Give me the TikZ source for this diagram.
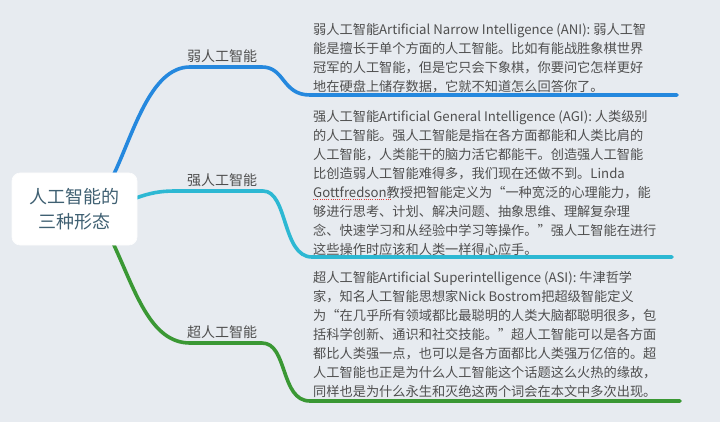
\documentclass[tikz,border=0pt]{standalone}
\usepackage{fontspec}
\newfontfamily\cjk{Noto Sans CJK SC}
\definecolor{bgc}{HTML}{E7EBF0}
\definecolor{cblue}{HTML}{2588DE}
\definecolor{ccyan}{HTML}{2DB8D3}
\definecolor{cgreen}{HTML}{3A9834}
\definecolor{ctext}{HTML}{4F4F4F}
\definecolor{clabel}{HTML}{4E4E4E}
\definecolor{ccenter}{HTML}{3F6072}
\definecolor{cred}{HTML}{E03A36}
\begin{document}
\begin{tikzpicture}[x=1pt,y=-1pt,
  branch/.style={line width=3.6pt,line cap=round,line join=round},
  desc/.style={anchor=north west,inner sep=0pt,align=left,text=ctext,font=\cjk\fontsize{13.2}{19}\selectfont},
  blabel/.style={inner sep=0pt,text=clabel,font=\cjk\fontsize{14}{16}\selectfont},
  centerbox/.style={fill=white,draw=white!90!bgc,line width=0.6pt,rounded corners=8pt,minimum width=125pt,minimum height=72pt,inner sep=0pt,align=center,text=ccenter,font=\cjk\fontsize{18}{25}\selectfont}]
\fill[bgc] (0,0) rectangle (720,422);
\useasboundingbox (0,0) rectangle (720,422);
% branch coordinates
\coordinate (b0) at (113,176);
\coordinate (b1) at (190,67);
\coordinate (b2) at (262,67);
\coordinate (b3) at (310,95);
\coordinate (b4) at (677,95);
\coordinate (s0) at (136,198);
\coordinate (s1) at (175,191);
\coordinate (s2) at (263,191);
\coordinate (s3) at (312,257);
\coordinate (s4) at (672,257);
\coordinate (g0) at (113,243);
\coordinate (g1) at (190,343);
\coordinate (g2) at (262,343);
\coordinate (g3) at (310,401);
\coordinate (g4) at (680,401);
\draw[branch,cblue] (b0) .. controls (133,135) and (150,67) .. (b1) -- (b2) .. controls (285,67) and (282,95) .. (b3) -- (b4);
\draw[branch,ccyan] (s0) .. controls (150,193) and (160,191) .. (s1) -- (s2) .. controls (288,191) and (282,257) .. (s3) -- (s4);
\draw[branch,cgreen] (g0) .. controls (135,290) and (150,343) .. (g1) -- (g2) .. controls (288,343) and (280,401) .. (g3) -- (g4);
\node[centerbox] (center) at (74.5,209) {人工智能的\\三种形态};
\node[blabel] (lweak) at (222,56) {弱人工智能};
\node[blabel] (lstrong) at (222,180) {强人工智能};
\node[blabel] (lsuper) at (222,332) {超人工智能};
\node[desc] (tweak) at (313,23) {弱人工智能Artificial Narrow Intelligence (ANI): 弱人工智\\能是擅长于单个方面的人工智能。比如有能战胜象棋世界\\冠军的人工智能，但是它只会下象棋，你要问它怎样更好\\地在硬盘上储存数据，它就不知道怎么回答你了。};
\node[desc] (tstrong) at (313,110) {强人工智能Artificial General Intelligence (AGI): 人类级别\\的人工智能。强人工智能是指在各方面都能和人类比肩的\\人工智能，人类能干的脑力活它都能干。创造强人工智能\\比创造弱人工智能难得多，我们现在还做不到。Linda\\Gottfredson教授把智能定义为“一种宽泛的心理能力，能\\够进行思考、计划、解决问题、抽象思维、理解复杂理\\念、快速学习和从经验中学习等操作。”强人工智能在进行\\这些操作时应该和人类一样得心应手。};
\node[desc] (tsuper) at (313,271) {超人工智能Artificial Superintelligence (ASI): 牛津哲学\\家，知名人工智能思想家Nick Bostrom把超级智能定义\\为“在几乎所有领域都比最聪明的人类大脑都聪明很多，包\\括科学创新、通识和社交技能。”超人工智能可以是各方面\\都比人类强一点，也可以是各方面都比人类强万亿倍的。超\\人工智能也正是为什么人工智能这个话题这么火热的缘故，\\同样也是为什么永生和灭绝这两个词会在本文中多次出现。};
\coordinate (r0) at (313,200);
\coordinate (r1) at (392,200);
\draw[cred,line width=1pt,dash pattern=on 1pt off 1.2pt] (r0) -- (r1);
\end{tikzpicture}
\end{document}
